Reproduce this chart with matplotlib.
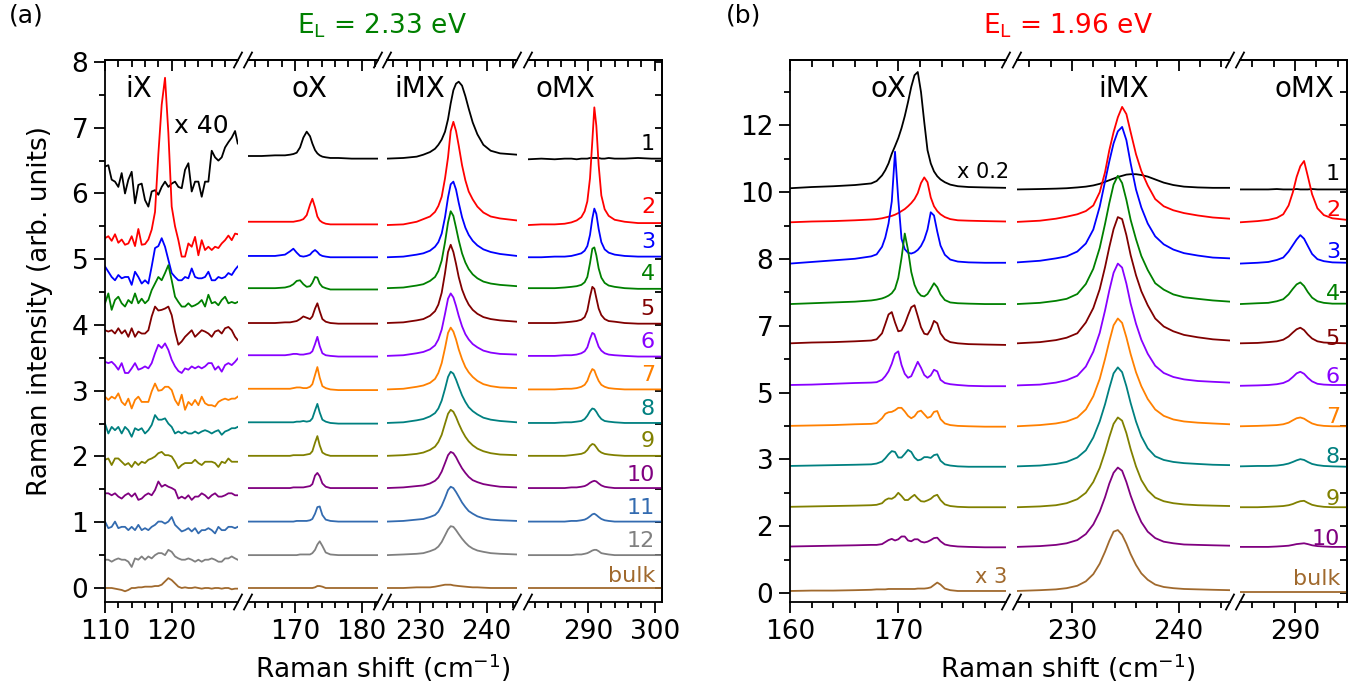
import matplotlib
matplotlib.use("Agg")
import matplotlib.pyplot as plt
from matplotlib.lines import Line2D
from matplotlib.ticker import MultipleLocator, FuncFormatter, NullFormatter, NullLocator

plt.rcParams['font.family'] = ['DejaVu Sans']
plt.rcParams['mathtext.fontset'] = 'dejavusans'

# ---------------------------------------------------------------- data (a)
labels_a = ['1', '2', '3', '4', '5', '6', '7', '8', '9', '10', '11', '12', 'bulk']
colors_a = ['#000000', '#ff0000', '#0000ff', '#008000', '#800000', '#8800ff', '#ff8000',
            '#008080', '#808000', '#800080', '#336bb0', '#808080', '#a0692d']
base_a = [6.55, 5.55, 5.04, 4.56, 4.03, 3.53, 3.02, 2.51, 2.01, 1.52, 1.01, 0.50, 0.0]
lab_y_a = [6.66, 5.70, 5.17, 4.68, 4.15, 3.65, 3.15, 2.63, 2.14, 1.63, 1.13, 0.62, 0.09]

x_ix_a = [110.0, 110.5, 111.0, 111.5, 112.0, 112.5, 113.0, 113.5, 114.0, 114.5, 115.0, 115.5,
          116.0, 116.5, 117.0, 117.5, 118.0, 118.5, 119.0, 119.5, 120.0, 120.5, 121.0, 121.5,
          122.0, 122.5, 123.0, 123.5, 124.0, 124.5, 125.0, 125.5, 126.0, 126.5, 127.0, 127.5,
          128.0, 128.5, 129.0, 129.5, 129.9]
# absolute values (x 40 region)
ix_a = [
    [6.41, 6.43, 6.21, 6.18, 6.10, 6.31, 6.00, 6.21, 6.33, 5.85, 6.13, 6.15, 5.90, 5.80, 6.03, 6.05, 5.98, 6.10, 6.18, 6.10, 6.15, 6.18, 6.10, 6.08, 6.36, 6.46, 6.03, 6.18, 6.18, 5.95, 6.18, 6.18, 6.65, 6.55, 6.50, 6.55, 6.70, 6.78, 6.85, 6.95, 6.76],
    [5.32, 5.35, 5.28, 5.38, 5.25, 5.30, 5.22, 5.24, 5.35, 5.20, 5.46, 5.22, 5.23, 5.30, 5.45, 5.72, 6.60, 7.35, 7.76, 6.92, 5.80, 5.50, 5.29, 5.04, 5.04, 5.24, 5.19, 5.34, 5.06, 5.29, 5.14, 5.19, 5.14, 5.19, 5.17, 5.24, 5.29, 5.36, 5.29, 5.39, 5.38],
    [4.89, 4.81, 4.73, 4.68, 4.76, 4.71, 4.73, 4.73, 4.61, 4.81, 4.73, 4.63, 4.68, 4.63, 4.89, 5.17, 5.20, 5.32, 5.19, 4.99, 4.79, 4.73, 4.68, 4.68, 4.73, 4.71, 4.86, 4.73, 4.71, 4.71, 4.73, 4.81, 4.68, 4.68, 4.73, 4.71, 4.73, 4.79, 4.76, 4.84, 4.89],
    [4.33, 4.48, 4.23, 4.38, 4.43, 4.33, 4.28, 4.38, 4.33, 4.48, 4.33, 4.40, 4.33, 4.38, 4.53, 4.63, 4.73, 4.68, 4.79, 4.91, 4.68, 4.43, 4.35, 4.28, 4.28, 4.33, 4.28, 4.30, 4.33, 4.38, 4.28, 4.46, 4.33, 4.35, 4.30, 4.38, 4.43, 4.33, 4.35, 4.33, 4.35],
    [3.92, 3.90, 3.92, 3.87, 3.95, 3.87, 3.92, 3.82, 3.95, 3.82, 3.90, 3.87, 3.87, 3.92, 4.13, 4.28, 4.22, 4.23, 4.25, 4.28, 4.15, 3.90, 3.70, 3.75, 3.82, 3.87, 3.92, 3.82, 3.87, 3.92, 3.90, 3.87, 3.82, 3.90, 3.92, 3.87, 3.95, 3.97, 3.92, 3.82, 3.77],
    [3.44, 3.42, 3.44, 3.39, 3.32, 3.42, 3.27, 3.27, 3.34, 3.42, 3.32, 3.34, 3.37, 3.34, 3.42, 3.57, 3.70, 3.65, 3.72, 3.62, 3.47, 3.37, 3.30, 3.27, 3.34, 3.32, 3.37, 3.34, 3.37, 3.34, 3.37, 3.42, 3.42, 3.32, 3.37, 3.29, 3.39, 3.42, 3.39, 3.44, 3.49],
    [2.91, 2.86, 2.91, 2.88, 2.96, 2.83, 2.78, 2.88, 2.73, 2.86, 2.91, 2.83, 2.83, 2.83, 2.99, 3.11, 3.00, 3.01, 3.06, 3.06, 3.01, 2.86, 2.78, 2.94, 2.71, 2.83, 2.78, 2.86, 2.78, 2.91, 2.81, 2.78, 2.78, 2.76, 2.83, 2.86, 2.88, 2.86, 2.88, 2.88, 2.91],
    [2.50, 2.35, 2.45, 2.40, 2.45, 2.35, 2.45, 2.40, 2.30, 2.43, 2.40, 2.43, 2.35, 2.40, 2.48, 2.63, 2.56, 2.56, 2.58, 2.50, 2.45, 2.35, 2.38, 2.35, 2.38, 2.35, 2.35, 2.38, 2.35, 2.38, 2.40, 2.38, 2.35, 2.38, 2.40, 2.33, 2.38, 2.40, 2.43, 2.43, 2.45],
    [1.95, 1.97, 1.87, 1.97, 1.97, 1.92, 1.87, 1.90, 1.84, 1.92, 1.87, 1.92, 1.90, 1.95, 1.97, 2.00, 2.05, 2.07, 2.02, 2.02, 2.00, 1.92, 1.82, 1.87, 1.90, 1.90, 1.90, 1.95, 1.90, 1.87, 1.92, 1.92, 1.92, 1.90, 1.84, 1.92, 1.90, 1.97, 1.92, 1.92, 1.92],
    [1.44, 1.44, 1.41, 1.44, 1.39, 1.36, 1.41, 1.44, 1.39, 1.44, 1.34, 1.36, 1.41, 1.44, 1.41, 1.49, 1.62, 1.54, 1.57, 1.54, 1.52, 1.49, 1.36, 1.39, 1.36, 1.41, 1.34, 1.39, 1.39, 1.44, 1.41, 1.36, 1.41, 1.44, 1.39, 1.39, 1.41, 1.44, 1.44, 1.41, 1.41],
    [1.01, 0.91, 0.93, 1.01, 0.91, 0.93, 0.93, 0.88, 0.93, 0.88, 0.96, 0.88, 0.91, 0.88, 0.93, 0.96, 1.01, 1.01, 0.98, 1.01, 1.08, 0.96, 0.91, 0.86, 0.88, 0.91, 0.86, 0.91, 0.83, 0.88, 0.88, 0.91, 0.88, 0.83, 0.93, 0.88, 0.88, 0.93, 0.93, 0.91, 0.93],
    [0.43, 0.43, 0.40, 0.43, 0.45, 0.43, 0.43, 0.40, 0.32, 0.45, 0.43, 0.48, 0.43, 0.48, 0.45, 0.50, 0.53, 0.53, 0.50, 0.58, 0.55, 0.48, 0.45, 0.43, 0.43, 0.45, 0.43, 0.40, 0.43, 0.40, 0.43, 0.43, 0.45, 0.43, 0.40, 0.40, 0.45, 0.45, 0.48, 0.45, 0.43],
    [0.00, 0.00, 0.00, -0.01, -0.02, -0.03, -0.05, -0.03, 0.00, 0.00, 0.01, 0.01, 0.02, 0.02, 0.02, 0.03, 0.03, 0.05, 0.10, 0.15, 0.12, 0.07, 0.02, 0.00, 0.01, 0.00, 0.00, 0.01, 0.00, -0.01, 0.00, 0.00, -0.01, 0.00, 0.00, -0.01, 0.00, 0.00, -0.02, -0.01, -0.01],
]

x_ox_a = [162.95, 165, 167, 168.5, 169.25, 169.75, 170.25, 170.75, 171.25, 171.75, 172.25,
          172.6, 173.0, 173.35, 173.7, 174.1, 174.6, 175.3, 176.5, 178.5, 181, 182.45]
ox_a = [
    [0.02, 0.02, 0.03, 0.03, 0.04, 0.05, 0.07, 0.15, 0.30, 0.39, 0.32, 0.21, 0.11, 0.06, 0.03, 0.01, 0.0, -0.01, -0.01, -0.02, -0.02, -0.02],
    [0.02, 0.02, 0.02, 0.02, 0.02, 0.02, 0.03, 0.04, 0.06, 0.12, 0.28, 0.37, 0.24, 0.10, 0.04, 0.01, -0.01, -0.02, -0.02, -0.02, -0.02, -0.02],
    [0.01, 0.01, 0.01, 0.03, 0.08, 0.12, 0.06, 0.01, 0.0, 0.01, 0.03, 0.07, 0.10, 0.07, 0.03, 0.01, 0.0, -0.01, -0.01, -0.01, -0.01, -0.01],
    [0.0, 0.0, 0.0, 0.01, 0.03, 0.06, 0.11, 0.12, 0.06, 0.02, 0.03, 0.08, 0.17, 0.16, 0.07, 0.02, 0.0, -0.02, -0.02, -0.02, -0.02, -0.02],
    [0.0, 0.0, 0.0, 0.01, 0.01, 0.02, 0.03, 0.06, 0.10, 0.08, 0.06, 0.10, 0.22, 0.30, 0.18, 0.06, 0.02, 0.0, -0.01, -0.01, -0.01, -0.01],
    [0.01, 0.01, 0.01, 0.01, 0.02, 0.03, 0.03, 0.02, 0.02, 0.03, 0.04, 0.07, 0.18, 0.29, 0.15, 0.04, 0.01, 0.0, -0.01, -0.01, -0.01, -0.01],
    [0.01, 0.01, 0.01, 0.01, 0.01, 0.02, 0.03, 0.03, 0.02, 0.02, 0.04, 0.08, 0.22, 0.34, 0.18, 0.05, 0.02, 0.0, -0.01, -0.01, -0.01, -0.01],
    [0.01, 0.01, 0.01, 0.01, 0.01, 0.01, 0.02, 0.02, 0.03, 0.02, 0.03, 0.07, 0.19, 0.29, 0.16, 0.05, 0.02, 0.0, -0.01, -0.01, -0.01, -0.01],
    [0.0, 0.0, 0.0, 0.0, 0.0, 0.01, 0.01, 0.01, 0.01, 0.02, 0.03, 0.07, 0.20, 0.30, 0.16, 0.05, 0.02, 0.0, 0.0, 0.0, 0.0, 0.0],
    [0.0, 0.0, 0.0, 0.0, 0.0, 0.01, 0.01, 0.01, 0.01, 0.02, 0.03, 0.06, 0.19, 0.23, 0.18, 0.07, 0.02, 0.0, 0.0, 0.0, 0.0, 0.0],
    [0.0, 0.0, 0.0, 0.0, 0.0, 0.0, 0.01, 0.01, 0.01, 0.01, 0.02, 0.04, 0.12, 0.22, 0.23, 0.10, 0.03, 0.01, 0.0, 0.0, 0.0, 0.0],
    [0.0, 0.0, 0.0, 0.0, 0.0, 0.0, 0.0, 0.01, 0.01, 0.01, 0.01, 0.03, 0.08, 0.16, 0.21, 0.14, 0.04, 0.01, 0.0, 0.0, 0.0, 0.0],
    [0.0, 0.0, 0.0, 0.0, 0.0, 0.0, 0.0, 0.0, 0.0, 0.0, 0.0, 0.0, 0.01, 0.03, 0.03, 0.02, 0.0, 0.0, 0.0, 0.0, 0.0, 0.0],
]

x_imx_a = [225.05, 227.5, 229.5, 230.5, 231.5, 232.25, 232.75, 233.25, 233.75, 234.2, 234.6,
           235.0, 235.4, 235.8, 236.3, 236.8, 237.3, 237.9, 238.6, 239.5, 240.6, 242, 244.54]
imx_a = [
    [-0.02, -0.01, 0.01, 0.04, 0.08, 0.13, 0.19, 0.27, 0.39, 0.58, 0.82, 1.02, 1.12, 1.15, 1.09, 0.93, 0.74, 0.53, 0.35, 0.19, 0.10, 0.06, 0.04],
    [-0.03, -0.02, 0.02, 0.06, 0.10, 0.17, 0.26, 0.40, 0.68, 1.00, 1.40, 1.54, 1.40, 1.18, 0.88, 0.65, 0.48, 0.36, 0.25, 0.16, 0.10, 0.07, 0.04],
    [-0.01, 0.0, 0.03, 0.05, 0.09, 0.15, 0.22, 0.35, 0.60, 0.90, 1.10, 1.14, 1.02, 0.82, 0.60, 0.44, 0.33, 0.24, 0.17, 0.11, 0.07, 0.04, 0.01],
    [0.0, 0.01, 0.04, 0.06, 0.11, 0.17, 0.26, 0.42, 0.70, 1.00, 1.17, 1.10, 0.92, 0.73, 0.53, 0.39, 0.29, 0.21, 0.15, 0.10, 0.07, 0.05, 0.03],
    [0.0, 0.01, 0.04, 0.06, 0.11, 0.18, 0.28, 0.46, 0.76, 1.08, 1.19, 1.08, 0.90, 0.70, 0.51, 0.38, 0.28, 0.20, 0.14, 0.09, 0.06, 0.04, 0.02],
    [0.0, 0.01, 0.04, 0.06, 0.10, 0.16, 0.25, 0.40, 0.64, 0.87, 0.95, 0.89, 0.76, 0.61, 0.45, 0.33, 0.25, 0.18, 0.13, 0.08, 0.05, 0.03, 0.02],
    [0.0, 0.01, 0.04, 0.06, 0.10, 0.16, 0.25, 0.40, 0.63, 0.86, 0.94, 0.88, 0.76, 0.61, 0.46, 0.34, 0.26, 0.19, 0.13, 0.08, 0.05, 0.03, 0.02],
    [0.0, 0.01, 0.04, 0.06, 0.10, 0.15, 0.22, 0.34, 0.52, 0.70, 0.78, 0.75, 0.66, 0.55, 0.42, 0.32, 0.24, 0.18, 0.13, 0.08, 0.05, 0.03, 0.01],
    [0.0, 0.01, 0.03, 0.05, 0.09, 0.14, 0.21, 0.32, 0.49, 0.64, 0.70, 0.67, 0.59, 0.49, 0.38, 0.29, 0.22, 0.16, 0.11, 0.07, 0.04, 0.02, 0.01],
    [0.0, 0.01, 0.03, 0.04, 0.07, 0.11, 0.16, 0.25, 0.38, 0.50, 0.55, 0.53, 0.47, 0.39, 0.30, 0.23, 0.17, 0.12, 0.09, 0.06, 0.04, 0.02, 0.01],
    [0.0, 0.01, 0.03, 0.04, 0.07, 0.10, 0.15, 0.24, 0.36, 0.48, 0.53, 0.51, 0.45, 0.38, 0.29, 0.22, 0.16, 0.12, 0.08, 0.05, 0.03, 0.02, 0.01],
    [0.0, 0.01, 0.02, 0.03, 0.06, 0.09, 0.13, 0.20, 0.30, 0.39, 0.44, 0.43, 0.38, 0.32, 0.25, 0.19, 0.14, 0.10, 0.07, 0.05, 0.03, 0.02, 0.01],
    [0.0, 0.0, 0.01, 0.01, 0.01, 0.02, 0.03, 0.04, 0.05, 0.05, 0.05, 0.04, 0.035, 0.03, 0.025, 0.02, 0.015, 0.01, 0.01, 0.005, 0.0, 0.0, 0.0],
]

x_omx_a = [281.0, 283, 285, 286.5, 287.5, 288.3, 289.0, 289.5, 289.9, 290.3, 290.65, 290.95,
           291.25, 291.6, 292.0, 292.5, 293.1, 294, 295.5, 297.5, 299.5, 301.1]
omx_a = [
    [-0.03, -0.02, -0.03, -0.02, -0.02, -0.03, -0.02, -0.02, -0.02, -0.01, -0.01, -0.01, -0.01, -0.01, -0.02, -0.02, -0.01, -0.02, -0.02, -0.01, -0.02, -0.02],
    [-0.03, -0.02, -0.02, -0.01, 0.01, 0.04, 0.09, 0.18, 0.33, 0.68, 1.25, 1.76, 1.48, 0.88, 0.42, 0.21, 0.11, 0.05, 0.02, 0.0, 0.0, 0.0],
    [-0.01, -0.01, 0.0, 0.0, 0.01, 0.03, 0.05, 0.09, 0.16, 0.33, 0.58, 0.73, 0.65, 0.42, 0.22, 0.11, 0.06, 0.03, 0.01, 0.0, 0.0, 0.0],
    [0.0, 0.0, 0.0, 0.01, 0.02, 0.03, 0.05, 0.09, 0.17, 0.38, 0.60, 0.62, 0.50, 0.30, 0.16, 0.08, 0.04, 0.02, 0.0, -0.01, -0.01, -0.01],
    [0.0, 0.0, 0.0, 0.01, 0.02, 0.03, 0.05, 0.09, 0.19, 0.40, 0.55, 0.52, 0.38, 0.22, 0.12, 0.06, 0.03, 0.02, 0.0, -0.01, -0.01, -0.01],
    [0.0, 0.0, 0.0, 0.01, 0.01, 0.02, 0.04, 0.07, 0.13, 0.26, 0.35, 0.33, 0.24, 0.14, 0.08, 0.04, 0.02, 0.01, 0.0, -0.01, -0.01, -0.01],
    [0.0, 0.0, 0.0, 0.01, 0.01, 0.02, 0.04, 0.07, 0.13, 0.24, 0.31, 0.29, 0.21, 0.13, 0.07, 0.04, 0.02, 0.01, 0.0, 0.0, 0.0, 0.0],
    [0.0, 0.0, 0.0, 0.01, 0.01, 0.02, 0.03, 0.06, 0.11, 0.18, 0.22, 0.21, 0.17, 0.11, 0.06, 0.03, 0.02, 0.01, 0.0, 0.0, 0.0, 0.0],
    [0.0, 0.0, 0.0, 0.0, 0.01, 0.02, 0.03, 0.05, 0.09, 0.15, 0.18, 0.17, 0.13, 0.08, 0.05, 0.03, 0.02, 0.01, 0.0, 0.0, 0.0, 0.0],
    [0.0, 0.0, 0.0, 0.0, 0.01, 0.01, 0.02, 0.03, 0.05, 0.08, 0.10, 0.11, 0.10, 0.07, 0.04, 0.02, 0.01, 0.0, 0.0, 0.0, 0.0, 0.0],
    [0.0, 0.0, 0.0, 0.0, 0.01, 0.01, 0.02, 0.03, 0.05, 0.08, 0.11, 0.12, 0.10, 0.07, 0.04, 0.02, 0.01, 0.0, 0.0, 0.0, 0.0, 0.0],
    [0.0, 0.0, 0.0, 0.0, 0.0, 0.01, 0.01, 0.02, 0.03, 0.05, 0.07, 0.08, 0.08, 0.06, 0.03, 0.02, 0.01, 0.0, 0.0, 0.0, 0.0, 0.0],
    [0.0, 0.0, 0.0, 0.0, 0.0, 0.0, 0.0, 0.0, 0.0, 0.0, 0.0, 0.0, 0.0, 0.0, 0.0, 0.0, 0.0, 0.0, 0.0, 0.0, 0.0, 0.0],
]

# ---------------------------------------------------------------- data (b)
labels_b = ['1', '2', '3', '4', '5', '6', '7', '8', '9', '10', 'bulk']
colors_b = ['#000000', '#ff0000', '#0000ff', '#008000', '#800000', '#8800ff', '#ff8000',
            '#008080', '#808000', '#800080', '#a0692d']
base_b = [10.10, 9.25, 8.22, 7.21, 6.23, 5.17, 4.16, 3.16, 2.14, 1.15, 0.05]
lab_y_b = [10.30, 9.41, 8.36, 7.31, 6.19, 5.24, 4.24, 3.24, 2.20, 1.20, 0.20]

x_ox_b = [160.0, 162, 164, 166, 167.5, 168.0, 168.5, 168.8, 169.1, 169.4, 169.7, 170.0, 170.3,
          170.6, 170.9, 171.2, 171.5, 171.8, 172.1, 172.4, 172.7, 173.0, 173.3, 173.6, 173.9,
          174.3, 174.8, 175.5, 176.5, 178, 179.95]
ox_b = [
    [0.0, 0.03, 0.05, 0.08, 0.12, 0.18, 0.32, 0.45, 0.62, 0.86, 1.05, 1.25, 1.50, 1.80, 2.15, 2.53, 2.82, 2.90, 2.40, 1.65, 0.95, 0.62, 0.42, 0.30, 0.22, 0.15, 0.09, 0.05, 0.03, 0.02, 0.01],
    [0.0, 0.02, 0.03, 0.05, 0.07, 0.08, 0.10, 0.12, 0.14, 0.16, 0.19, 0.23, 0.28, 0.33, 0.40, 0.48, 0.58, 0.73, 0.98, 1.12, 1.00, 0.62, 0.40, 0.28, 0.20, 0.13, 0.08, 0.05, 0.04, 0.03, 0.02],
    [0.0, 0.04, 0.08, 0.12, 0.18, 0.23, 0.42, 0.65, 1.00, 1.55, 2.79, 1.60, 0.62, 0.36, 0.27, 0.25, 0.28, 0.34, 0.44, 0.60, 0.85, 1.28, 1.20, 0.80, 0.45, 0.22, 0.10, 0.05, 0.03, 0.02, 0.02],
    [0.0, 0.02, 0.04, 0.06, 0.09, 0.11, 0.14, 0.17, 0.21, 0.27, 0.38, 0.65, 1.15, 1.76, 1.35, 0.80, 0.48, 0.30, 0.21, 0.19, 0.25, 0.38, 0.52, 0.42, 0.24, 0.10, 0.04, 0.02, 0.01, 0.0, 0.0],
    [0.0, 0.02, 0.03, 0.05, 0.07, 0.10, 0.25, 0.48, 0.72, 0.78, 0.52, 0.30, 0.32, 0.48, 0.70, 0.90, 0.95, 0.68, 0.40, 0.24, 0.22, 0.35, 0.56, 0.50, 0.25, 0.10, 0.03, 0.0, -0.02, -0.03, -0.04],
    [0.02, 0.03, 0.05, 0.07, 0.08, 0.09, 0.15, 0.24, 0.36, 0.55, 0.80, 0.86, 0.52, 0.30, 0.20, 0.24, 0.42, 0.60, 0.45, 0.27, 0.20, 0.26, 0.40, 0.36, 0.15, 0.07, 0.04, 0.02, 0.0, -0.01, -0.01],
    [0.01, 0.02, 0.03, 0.05, 0.06, 0.08, 0.20, 0.31, 0.35, 0.36, 0.40, 0.46, 0.46, 0.37, 0.26, 0.20, 0.25, 0.36, 0.39, 0.30, 0.21, 0.24, 0.36, 0.38, 0.18, 0.07, 0.03, 0.01, 0.0, -0.01, -0.01],
    [0.01, 0.02, 0.03, 0.04, 0.05, 0.07, 0.12, 0.20, 0.30, 0.38, 0.36, 0.22, 0.22, 0.31, 0.41, 0.36, 0.22, 0.15, 0.17, 0.23, 0.23, 0.21, 0.28, 0.30, 0.14, 0.05, 0.02, 0.0, -0.01, -0.01, -0.01],
    [0.01, 0.02, 0.03, 0.04, 0.05, 0.06, 0.10, 0.18, 0.22, 0.21, 0.26, 0.36, 0.28, 0.18, 0.18, 0.25, 0.31, 0.22, 0.15, 0.14, 0.17, 0.21, 0.28, 0.31, 0.18, 0.07, 0.03, 0.01, 0.0, 0.0, 0.0],
    [0.01, 0.02, 0.03, 0.04, 0.05, 0.05, 0.07, 0.12, 0.17, 0.20, 0.16, 0.19, 0.26, 0.26, 0.16, 0.14, 0.19, 0.19, 0.13, 0.11, 0.13, 0.17, 0.22, 0.23, 0.14, 0.06, 0.03, 0.01, 0.0, -0.01, -0.01],
    [0.0, 0.01, 0.01, 0.02, 0.03, 0.04, 0.04, 0.04, 0.05, 0.05, 0.05, 0.05, 0.05, 0.05, 0.05, 0.05, 0.05, 0.06, 0.06, 0.06, 0.07, 0.09, 0.15, 0.21, 0.16, 0.06, 0.02, 0.0, 0.0, 0.0, 0.0],
]

x_imx_b = [224.85, 227, 228.5, 229.5, 230.5, 231.3, 232.0, 232.6, 233.1, 233.5, 233.9, 234.3,
           234.7, 235.1, 235.5, 236.0, 236.5, 237.1, 237.8, 238.6, 239.5, 240.5, 241.8, 243.2, 244.81]
imx_b = [
    [-0.03, -0.02, -0.01, 0.0, 0.02, 0.04, 0.07, 0.11, 0.16, 0.20, 0.24, 0.28, 0.31, 0.34, 0.35, 0.35, 0.33, 0.29, 0.22, 0.14, 0.08, 0.04, 0.02, 0.01, 0.01],
    [0.01, 0.04, 0.09, 0.14, 0.20, 0.28, 0.42, 0.75, 1.25, 1.80, 2.25, 2.62, 2.88, 2.70, 2.25, 1.70, 1.28, 0.92, 0.58, 0.40, 0.30, 0.23, 0.17, 0.12, 0.09],
    [0.03, 0.07, 0.13, 0.18, 0.30, 0.50, 0.85, 1.42, 2.05, 2.55, 3.00, 3.30, 3.41, 3.08, 2.50, 1.85, 1.40, 1.00, 0.68, 0.48, 0.35, 0.26, 0.20, 0.15, 0.13],
    [0.0, 0.03, 0.08, 0.13, 0.25, 0.50, 0.88, 1.40, 2.00, 2.52, 2.98, 3.20, 3.02, 2.60, 2.10, 1.62, 1.20, 0.85, 0.52, 0.36, 0.24, 0.17, 0.13, 0.09, 0.06],
    [0.0, 0.03, 0.08, 0.14, 0.25, 0.52, 0.88, 1.35, 1.90, 2.40, 2.85, 3.15, 3.10, 2.70, 2.20, 1.70, 1.30, 0.95, 0.62, 0.42, 0.30, 0.21, 0.15, 0.10, 0.07],
    [0.01, 0.03, 0.08, 0.14, 0.25, 0.48, 0.85, 1.32, 1.88, 2.38, 2.82, 3.05, 2.95, 2.55, 2.05, 1.55, 1.15, 0.80, 0.50, 0.32, 0.22, 0.16, 0.12, 0.10, 0.08],
    [0.0, 0.03, 0.07, 0.12, 0.22, 0.42, 0.75, 1.18, 1.68, 2.12, 2.52, 2.69, 2.58, 2.22, 1.80, 1.35, 1.00, 0.68, 0.42, 0.26, 0.17, 0.12, 0.09, 0.07, 0.05],
    [0.0, 0.02, 0.06, 0.11, 0.22, 0.40, 0.72, 1.12, 1.55, 1.95, 2.32, 2.47, 2.35, 2.00, 1.58, 1.12, 0.75, 0.45, 0.25, 0.16, 0.11, 0.08, 0.06, 0.04, 0.03],
    [0.0, 0.02, 0.05, 0.10, 0.20, 0.36, 0.63, 0.98, 1.38, 1.75, 2.08, 2.24, 2.16, 1.85, 1.45, 1.02, 0.68, 0.42, 0.24, 0.15, 0.10, 0.07, 0.05, 0.04, 0.03],
    [0.0, 0.02, 0.05, 0.09, 0.17, 0.32, 0.56, 0.88, 1.24, 1.58, 1.85, 1.98, 1.90, 1.62, 1.28, 0.92, 0.62, 0.38, 0.22, 0.13, 0.09, 0.06, 0.05, 0.04, 0.03],
    [0.0, 0.02, 0.04, 0.07, 0.13, 0.24, 0.42, 0.68, 0.98, 1.25, 1.48, 1.52, 1.40, 1.18, 0.92, 0.65, 0.44, 0.28, 0.16, 0.10, 0.07, 0.05, 0.04, 0.03, 0.02],
]

x_omx_b = [284.85, 286.5, 287.5, 288.3, 288.9, 289.4, 289.8, 290.15, 290.5, 290.85, 291.2,
           291.6, 292.1, 292.7, 293.5, 294.87]
omx_b = [
    [-0.03, -0.03, -0.03, -0.02, -0.03, -0.03, -0.03, -0.02, -0.03, -0.03, -0.03, -0.02, -0.03, -0.03, -0.03, -0.03],
    [0.0, 0.03, 0.06, 0.11, 0.20, 0.42, 0.75, 1.13, 1.40, 1.53, 1.15, 0.70, 0.35, 0.18, 0.10, 0.06],
    [0.0, 0.02, 0.04, 0.09, 0.15, 0.30, 0.46, 0.60, 0.71, 0.62, 0.44, 0.24, 0.11, 0.06, 0.03, 0.02],
    [0.0, 0.02, 0.03, 0.07, 0.12, 0.24, 0.38, 0.49, 0.54, 0.45, 0.30, 0.16, 0.07, 0.03, 0.01, 0.01],
    [0.0, 0.01, 0.03, 0.05, 0.09, 0.17, 0.27, 0.35, 0.39, 0.33, 0.22, 0.12, 0.05, 0.02, 0.01, 0.0],
    [0.0, 0.01, 0.02, 0.04, 0.07, 0.13, 0.22, 0.31, 0.35, 0.30, 0.20, 0.11, 0.05, 0.03, 0.02, 0.02],
    [0.0, 0.01, 0.02, 0.03, 0.05, 0.09, 0.15, 0.20, 0.22, 0.19, 0.13, 0.07, 0.03, 0.01, 0.0, 0.0],
    [0.0, 0.01, 0.01, 0.02, 0.04, 0.07, 0.11, 0.15, 0.18, 0.16, 0.11, 0.06, 0.03, 0.01, 0.0, -0.01],
    [0.0, 0.0, 0.01, 0.02, 0.03, 0.05, 0.08, 0.12, 0.15, 0.16, 0.11, 0.06, 0.03, 0.01, 0.0, 0.0],
    [0.0, 0.0, 0.0, 0.01, 0.02, 0.03, 0.05, 0.07, 0.08, 0.09, 0.07, 0.04, 0.02, 0.01, 0.0, 0.0],
    [-0.02, -0.02, -0.02, -0.02, -0.02, -0.02, -0.02, -0.02, -0.02, -0.02, -0.02, -0.02, -0.02, -0.02, -0.02, -0.02],
]

# ---------------------------------------------------------------- figure
W, H = 1367, 692
fig = plt.figure(figsize=(W / 100, H / 100), dpi=100)
LW = 1.3
SPW = 1.3
TICKFS = 19


def rect(x0, x1, ytop=60, ybot=602):
    return [x0 / W, 1 - ybot / H, (x1 - x0) / W, (ybot - ytop) / H]


def segment(r, xlim, ylim, first, last, ymaj, ymin_, yfmt, rstep):
    ax = fig.add_axes(r)
    ax.set_xlim(*xlim)
    ax.set_ylim(*ylim)
    for s in ax.spines.values():
        s.set_linewidth(SPW)
    ax.spines['left'].set_visible(first)
    ax.spines['right'].set_visible(last)
    ax.xaxis.set_major_locator(MultipleLocator(10))
    ax.xaxis.set_minor_locator(MultipleLocator(2))
    ax.tick_params(axis='x', which='both', direction='out', top=False,
                   labelsize=TICKFS, width=SPW)
    ax.tick_params(axis='x', which='major', length=8, pad=4)
    ax.tick_params(axis='x', which='minor', length=4.5)
    if first:
        ax.yaxis.set_major_locator(MultipleLocator(ymaj))
        ax.yaxis.set_minor_locator(MultipleLocator(ymin_))
        ax.yaxis.set_major_formatter(yfmt)
        ax.tick_params(axis='y', which='both', direction='out', right=False,
                       labelsize=TICKFS, width=SPW)
        ax.tick_params(axis='y', which='major', length=8, pad=4)
        ax.tick_params(axis='y', which='minor', length=4.5)
    else:
        ax.tick_params(axis='y', which='both', left=False, right=False, labelleft=False)
    top = ax.secondary_xaxis('top')
    top.xaxis.set_major_locator(MultipleLocator(10))
    top.xaxis.set_minor_locator(MultipleLocator(2))
    top.xaxis.set_major_formatter(NullFormatter())
    top.tick_params(which='both', direction='in', width=SPW)
    top.tick_params(which='major', length=8)
    top.tick_params(which='minor', length=5)
    top.spines['top'].set_linewidth(SPW)
    if last:
        rr = ax.secondary_yaxis('right')
        rr.yaxis.set_major_locator(MultipleLocator(rstep))
        rr.yaxis.set_minor_locator(NullLocator())
        rr.yaxis.set_major_formatter(NullFormatter())
        rr.tick_params(which='major', direction='in', length=5, width=SPW)
        rr.spines['right'].set_linewidth(SPW)
    return ax


def slash(xpx, ypx):
    fig.add_artist(Line2D([(xpx - 4) / W, (xpx + 4) / W],
                          [1 - (ypx + 7.5) / H, 1 - (ypx - 7.5) / H],
                          transform=fig.transFigure, color='k', lw=SPW))


def draw(ax, xs, rows, bases, colors, absolute=False):
    for row, b, c in zip(rows, bases, colors):
        ys = row if absolute else [b + v for v in row]
        ax.plot(xs, ys, color=c, lw=LW, solid_joinstyle='round')


# ---- panel (a)
ylim_a = (-0.213, 8.03)
fmt_a = FuncFormatter(lambda v, p: f"{v:.0f}")
a1 = segment(rect(105, 238), (110, 129.94), ylim_a, True, False, 1, 0.5, fmt_a, 0.5)
a2 = segment(rect(248, 378), (162.95, 182.44), ylim_a, False, False, 1, 0.5, fmt_a, 0.5)
a3 = segment(rect(387, 517), (225.05, 244.54), ylim_a, False, False, 1, 0.5, fmt_a, 0.5)
a4 = segment(rect(528, 662), (281.0, 301.1), ylim_a, False, True, 1, 0.5, fmt_a, 0.5)
draw(a1, x_ix_a, ix_a, base_a, colors_a, absolute=True)
draw(a2, x_ox_a, ox_a, base_a, colors_a)
draw(a3, x_imx_a, imx_a, base_a, colors_a)
draw(a4, x_omx_a, omx_a, base_a, colors_a)
for lab, y, c in zip(labels_a, lab_y_a, colors_a):
    a4.text(0.948, y, lab, color=c, fontsize=16, ha='right', va='baseline',
            transform=a4.get_yaxis_transform())
for xj in (238, 248, 378, 387, 517, 528):
    slash(xj, 60)
    slash(xj, 602)

# ---- panel (b)
ylim_b = (-0.225, 13.30)
fmt_b = FuncFormatter(lambda v, p: f"{v:.0f}")
b1 = segment(rect(790, 1006), (160, 179.95), ylim_b, True, False, 5 / 3, 5 / 6, fmt_b, 5 / 6)
b2 = segment(rect(1017, 1230), (224.85, 244.81), ylim_b, False, False, 5 / 3, 5 / 6, fmt_b, 5 / 6)
b3 = segment(rect(1240, 1347), (284.85, 294.87), ylim_b, False, True, 5 / 3, 5 / 6, fmt_b, 5 / 6)
draw(b1, x_ox_b, ox_b, base_b, colors_b)
draw(b2, x_imx_b, imx_b, base_b, colors_b)
draw(b3, x_omx_b, omx_b, base_b, colors_b)
for lab, y, c in zip(labels_b, lab_y_b, colors_b):
    b3.text(0.935, y, lab, color=c, fontsize=16, ha='right', va='baseline',
            transform=b3.get_yaxis_transform())
for xj in (1006, 1017, 1230, 1240):
    slash(xj, 60)
    slash(xj, 602)

# ---- texts
def ftext(xpx, ypx, s, **kw):
    fig.text(xpx / W, 1 - ypx / H, s, **kw)

ftext(26, 16, '(a)', fontsize=18, ha='center', va='center')
ftext(744, 16, '(b)', fontsize=18, ha='center', va='center')
ftext(382, 33, r'$\mathregular{E_L}$ = 2.33 eV', fontsize=19, color='#008000', ha='center', va='baseline')
ftext(1068, 33, r'$\mathregular{E_L}$ = 1.96 eV', fontsize=19, color='#ff0000', ha='center', va='baseline')

for xpx, s in ((139, 'iX'), (309, 'oX'), (420, 'iMX'), (565, 'oMX'),
               (888, 'oX'), (1124, 'iMX'), (1304, 'oMX')):
    ftext(xpx, 97, s, fontsize=20, ha='center', va='baseline')
ftext(201, 133, 'x 40', fontsize=18, ha='center', va='baseline')
ftext(983, 178, 'x 0.2', fontsize=15, ha='center', va='baseline')
ftext(991, 583, 'x 3', fontsize=15, ha='center', va='baseline', color='#a0692d')

ftext(40, 311, 'Raman intensity (arb. units)', fontsize=19, rotation=90, ha='center', va='center')
ftext(383, 678, 'Raman shift (cm$^{-1}$)', fontsize=19, ha='center', va='baseline')
ftext(1068, 678, 'Raman shift (cm$^{-1}$)', fontsize=19, ha='center', va='baseline')

fig.savefig('out.png', dpi=100)
